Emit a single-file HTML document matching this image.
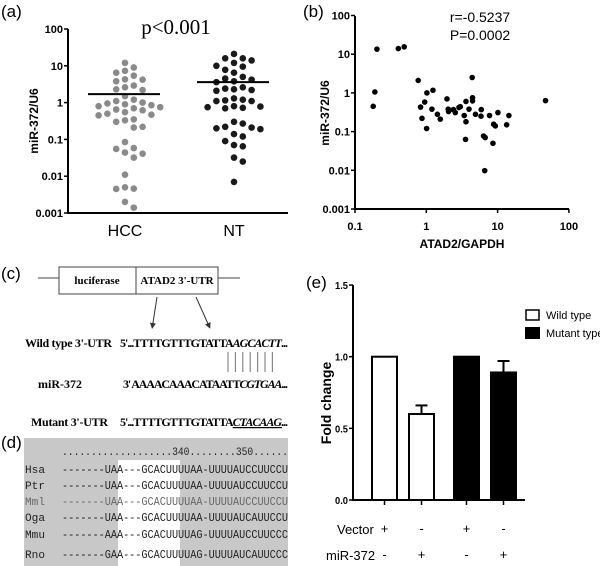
<!DOCTYPE html>
<html><head><meta charset="utf-8"><style>
html,body{margin:0;padding:0;background:#fff}
svg{display:block}
text{font-family:"Liberation Sans",sans-serif}
text.serif{font-family:"Liberation Serif",serif}
text.mono{font-family:"Liberation Mono",monospace}
</style></head><body>
<svg id="fig" width="600" height="566" viewBox="0 0 600 566" xmlns="http://www.w3.org/2000/svg">
<defs><marker id="ah" markerWidth="6" markerHeight="6" refX="3" refY="3" orient="auto"><path d="M0,0 L6,3 L0,6 z" fill="#333"/></marker></defs>
<text x="1" y="17" font-size="17">(a)</text>
<text x="303" y="17" font-size="17">(b)</text>
<text x="1" y="279" font-size="17">(c)</text>
<text x="1" y="448" font-size="17">(d)</text>
<text x="306" y="288" font-size="17">(e)</text>

<g id="pa"></g>
<g id="pb"></g>

<g>
<line x1="38" y1="278" x2="59" y2="278" stroke="#444" stroke-width="1"/>
<line x1="218" y1="278" x2="240" y2="278" stroke="#444" stroke-width="1"/>
<rect x="59" y="267" width="159" height="27" fill="#fff" stroke="#444"/>
<line x1="136" y1="267" x2="136" y2="294" stroke="#444"/>
<text x="97" y="284" font-size="11" font-weight="bold" text-anchor="middle" class="serif">luciferase</text>
<text x="177" y="284" font-size="11" font-weight="bold" text-anchor="middle" class="serif">ATAD2 3'-UTR</text>
<line x1="157" y1="297" x2="152.5" y2="326" stroke="#333" marker-end="url(#ah)"/>
<line x1="196" y1="297" x2="209" y2="326" stroke="#333" marker-end="url(#ah)"/>
<text x="25" y="347" font-size="12" font-weight="bold" class="serif" textLength="87">Wild type 3'-UTR</text>
<text x="120" y="347" font-size="12" font-weight="bold" class="serif" textLength="168">5'...TTTTGTTTGTATTA<tspan font-style="italic">AGCACTT</tspan>...</text>
<g id="pairs"></g>
<text x="38" y="388" font-size="12" font-weight="bold" class="serif">miR-372</text>
<text x="123" y="388" font-size="12" font-weight="bold" class="serif" textLength="165">3'  AAAACAAACATAATT<tspan font-style="italic">CGTGAA</tspan>...</text>
<text x="31" y="426" font-size="12" font-weight="bold" class="serif" textLength="77">Mutant 3'-UTR</text>
<text x="120" y="426" font-size="12" font-weight="bold" class="serif" textLength="168">5'...TTTTGTTTGTATTA<tspan font-style="italic" text-decoration="underline">CTACAAG</tspan>...</text>
</g>

<g>
<rect x="24" y="438" width="264" height="128" fill="#c8c8c8"/>
<rect x="118" y="460" width="62" height="106" fill="#fff"/>
<g id="aln"></g>
</g>

<g id="pe"></g>
</svg>
<script>
const NS="http://www.w3.org/2000/svg";
function mk(parent,tag,attrs,txt){const e=document.createElementNS(NS,tag);for(const k in attrs)e.setAttribute(k,attrs[k]);if(txt!==undefined)e.textContent=txt;parent.appendChild(e);return e;}

/* ---------- Panel (a) data ---------- */
const hccValues=[12,9,7.3,6.5,5.4,4.2,4.3,3.8,2.9,2.6,2.3,2.2,1.5,1.2,1.1,1.0,0.95,0.9,0.85,0.8,0.75,0.7,0.65,0.62,0.55,0.5,0.47,0.45,0.35,0.33,0.3,0.22,0.21,0.085,0.058,0.055,0.044,0.041,0.032,0.011,0.0046,0.0045,0.005,0.002,0.0014];
const ntValues=[21,16,16,14,12,10,9.5,7.8,6.5,5,4.5,4.2,3.8,3.6,2.6,2.4,2.3,2.2,2.1,1.3,1.2,1.15,1.1,1.1,0.8,0.78,0.75,0.72,0.7,0.3,0.27,0.22,0.21,0.2,0.19,0.14,0.12,0.09,0.07,0.065,0.032,0.025,0.007];
const groupNames=["HCC","NT"];
const groupMeans=[1.7,3.6];
const aTicks=[100,10,1,0.1,0.01,0.001];
const aTickLabels=["100","10","1","0.1","0.01","0.001"];

/* ---------- Panel (b) data ---------- */
const atad2=[0.203,0.19,0.18,0.405,0.49,0.77,0.83,0.87,0.95,1.02,1.01,1.24,1.2,1.43,1.57,1.95,2.03,2.05,2.4,2.55,2.87,3.0,3.4,3.6,3.6,3.55,3.97,4.4,4.45,4.45,4.9,5.9,5.85,6.35,6.7,6.6,7.7,8.8,8.6,9.3,10.1,13.4,14.4,47];
const mir372=[13.5,1.06,0.45,14,15.5,2.1,0.43,0.22,0.58,1,0.12,1.17,0.38,0.28,0.21,0.7,0.38,0.33,0.37,0.31,0.42,0.44,0.26,0.18,0.6,0.063,0.38,2.5,0.75,0.62,0.28,0.37,0.25,0.077,0.07,0.0098,0.26,0.155,0.05,0.14,0.31,0.15,0.26,0.63];
const bXTicks=[0.1,1,10,100];
const bXTickLabels=["0.1","1","10","100"];
const bYTicks=[100,10,1,0.1,0.01,0.001];
const bYTickLabels=["100","10","1","0.1","0.01","0.001"];

/* ---------- Panel (e) data ---------- */
const barValues=[1.0,0.6,1.0,0.89];
const barErrors=[0,0.06,0,0.08];
const barTypes=["wild","wild","mutant","mutant"];
const vectorSigns=["+","-","+","-"];
const mirSigns=["-","+","-","+"];
const eTicks=[0,0.5,1.0,1.5];
const eTickLabels=["0.0","0.5","1.0","1.5"];

/* ---------- Panel (a) draw ---------- */
(function(){
const g=document.getElementById('pa');
const y=v=>213-(Math.log10(v)+3)*36.8;
const cx=[125,234];
mk(g,'line',{x1:68,y1:29,x2:68,y2:213,stroke:'#000','stroke-width':2,});
mk(g,'line',{x1:67,y1:213,x2:288,y2:213,stroke:'#000','stroke-width':2,});
aTicks.forEach((t,i)=>{
 mk(g,'line',{x1:64,y1:y(t),x2:68,y2:y(t),stroke:'#000','stroke-width':1.5,});
 mk(g,'text',{x:63,y:y(t)+4,'font-size':11,'font-weight':'bold','text-anchor':'end',},aTickLabels[i]);
});
mk(g,'text',{x:0,y:0,'font-size':12,'font-weight':'bold','text-anchor':'middle',transform:'translate(38,121) rotate(-90)',},'miR-372/U6');
groupNames.forEach((n,i)=>mk(g,'text',{x:cx[i],y:236,'font-size':16,'text-anchor':'middle',},n));
mk(g,'text',{x:176,y:34,'font-size':21,'text-anchor':'middle',class:'serif',},'p<0.001');
const groups=[hccValues,ntValues];
const colors=['#8a8a8a','#1a1a1a'];
groups.forEach((vals,gi)=>{
 const placed=[];
 const sorted=vals.slice().sort((a,b)=>b-a);
 sorted.forEach(v=>{
  const py=y(v);
  const offs=[0];for(let k=1;k<8;k++){offs.push(k*8.8);offs.push(-k*8.8);}
  let px=cx[gi];
  for(const o of offs){const tx=cx[gi]+o;if(placed.every(p=>Math.hypot(p[0]-tx,p[1]-py)>7.6)){px=tx;break;}}
  placed.push([px,py]);
  const c=mk(g,'circle',{cx:px,cy:py,r:3.3,fill:colors[gi]});
  
  
 });
 const m=mk(g,'line',{x1:cx[gi]-37,x2:cx[gi]+35,y1:y(groupMeans[gi]),y2:y(groupMeans[gi]),stroke:'#000','stroke-width':2});
 
 
});
})();

/* ---------- Panel (b) draw ---------- */
(function(){
const g=document.getElementById('pb');
const x=v=>355+(Math.log10(v)+1)*71.3;
const y=v=>209-(Math.log10(v)+3)*38.7;
mk(g,'line',{x1:355,y1:16,x2:355,y2:209,stroke:'#000','stroke-width':2,});
mk(g,'line',{x1:354,y1:209,x2:569,y2:209,stroke:'#000','stroke-width':2,});
bYTicks.forEach((t,i)=>{
 mk(g,'line',{x1:351,y1:y(t),x2:355,y2:y(t),stroke:'#000','stroke-width':1.5,});
 mk(g,'text',{x:350,y:y(t)+4,'font-size':11,'font-weight':'bold','text-anchor':'end',},bYTickLabels[i]);
});
bXTicks.forEach((t,i)=>{
 mk(g,'line',{x1:x(t),y1:209,x2:x(t),y2:213,stroke:'#000','stroke-width':1.5,});
 mk(g,'text',{x:x(t),y:230,'font-size':11,'font-weight':'bold','text-anchor':'middle',},bXTickLabels[i]);
});
mk(g,'text',{x:0,y:0,'font-size':12,'font-weight':'bold','text-anchor':'middle',transform:'translate(329,113) rotate(-90)',},'miR-372/U6');
mk(g,'text',{x:462,y:248,'font-size':12,'font-weight':'bold','text-anchor':'middle',},'ATAD2/GAPDH');
mk(g,'text',{x:480,y:22,'font-size':14,'text-anchor':'middle',},'r=-0.5237');
mk(g,'text',{x:480,y:40,'font-size':14,'text-anchor':'middle',},'P=0.0002');
atad2.forEach((v,i)=>{
 const c=mk(g,'circle',{cx:x(v),cy:y(mir372[i]),r:2.8,fill:'#000'});
 
 
});
})();

(function(){
const g=document.getElementById('pairs');
for(let i=0;i<7;i++){const l=mk(g,'line',{x1:228+i*7.4,y1:352,x2:228+i*7.4,y2:372,stroke:'#888','stroke-width':1.2});
 }
})();

(function(){
const g=document.getElementById('aln');
const species=["Hsa","Ptr","Mml","Oga","Mmu","Rno"];
const seqs=["-------UAA---GCACUUUUAA-UUUUAUCCUUCCU","-------UAA---GCACUUUUAA-UUUUAUCCUUCCU","-------UAA---GCACUUUUAA-UUUUAUCCUUCCU","-------UAA---GCACUUUUAA-UUUUAUCAUUCCU","-------AAA---GCACUUUUAG-UUUUAUCCUUCCC","-------GAA---GCACUUUUAG-UUUUAUCAUUCCC"];
const rowY=[473,489,505,521,538,558];
const t=mk(g,'text',{x:62,y:455,'font-size':11,textLength:226,lengthAdjust:'spacingAndGlyphs',fill:'#222',class:'mono'},'...................340........350......');

species.forEach((s,i)=>{
 const col=i===2?'#666':'#222';
 const a=mk(g,'text',{x:25,y:rowY[i],'font-size':11,fill:col,class:'mono',textLength:20,lengthAdjust:'spacingAndGlyphs'},s);
 
 const b=mk(g,'text',{x:62,y:rowY[i],'font-size':12,textLength:226,lengthAdjust:'spacingAndGlyphs',fill:col,class:'mono'},seqs[i]);
 
});
})();

(function(){
const g=document.getElementById('pe');
const y=v=>500-v*143.3;
const bx=[372,409,454,491],bw=25;
mk(g,'line',{x1:353,y1:285,x2:353,y2:500,stroke:'#000','stroke-width':2,});
mk(g,'line',{x1:352,y1:500,x2:525,y2:500,stroke:'#000','stroke-width':2,});
eTicks.forEach((t,i)=>{
 mk(g,'line',{x1:349,y1:y(t),x2:353,y2:y(t),stroke:'#000','stroke-width':1.5,});
 mk(g,'text',{x:348,y:y(t)+4,'font-size':10,'font-weight':'bold','text-anchor':'end',textLength:13,lengthAdjust:'spacingAndGlyphs',},eTickLabels[i]);
});
mk(g,'text',{x:0,y:0,'font-size':14,'font-weight':'bold','text-anchor':'middle',transform:'translate(331,403) rotate(-90)',},'Fold change');
barValues.forEach((v,i)=>{
 const cx=bx[i]+bw/2;
 if(barErrors[i]>0){
  const e1=mk(g,'line',{x1:cx,x2:cx,y1:y(v),y2:y(v+barErrors[i]),stroke:'#000','stroke-width':2});
  
  const e2=mk(g,'line',{x1:cx-6,x2:cx+6,y1:y(v+barErrors[i]),y2:y(v+barErrors[i]),stroke:'#000','stroke-width':2});
  
 }
 const r=mk(g,'rect',{x:bx[i],y:y(v),width:bw,height:500-y(v),fill:barTypes[i]==='wild'?'#fff':'#000',stroke:'#000','stroke-width':2});
 
 const tk=mk(g,'line',{x1:cx,x2:cx,y1:500,y2:505,stroke:'#000','stroke-width':1.5});
 
 const s1=mk(g,'text',{x:cx,y:533,'font-size':13,'text-anchor':'middle'},vectorSigns[i]);
 
 const s2=mk(g,'text',{x:cx,y:559,'font-size':13,'text-anchor':'middle'},mirSigns[i]);
 
});
mk(g,'text',{x:337,y:534,'font-size':13,},'Vector');
mk(g,'text',{x:326,y:560,'font-size':13,},'miR-372');
mk(g,'rect',{x:526,y:310,width:13,height:10,fill:'#fff',stroke:'#000','stroke-width':1.5,});
mk(g,'text',{x:546,y:319,'font-size':11,},'Wild type');
mk(g,'rect',{x:525,y:327,width:15,height:12,fill:'#000',});
mk(g,'text',{x:546,y:337,'font-size':11,},'Mutant type');
})();
</script>
</body></html>
